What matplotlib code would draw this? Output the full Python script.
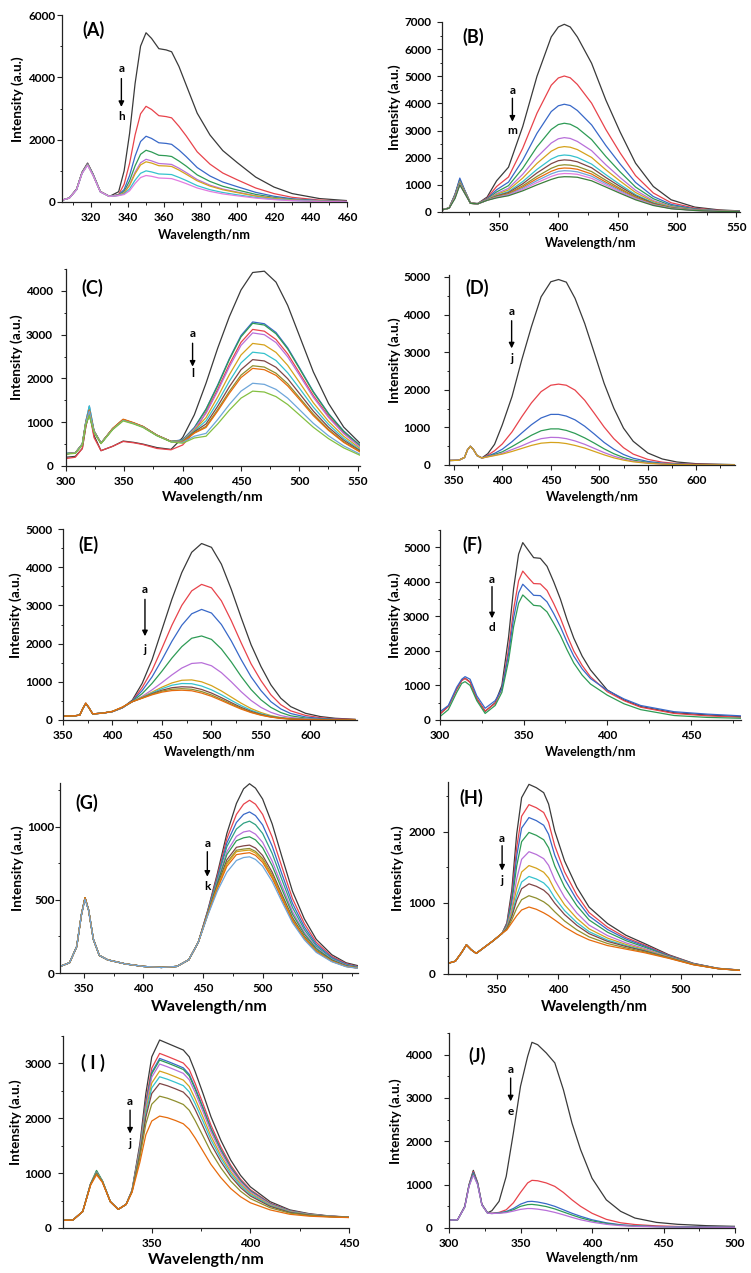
import matplotlib
matplotlib.use('Agg')
import matplotlib.pyplot as plt
from matplotlib.ticker import MultipleLocator

plt.rcParams['font.family'] = ['Lato', 'DejaVu Sans']
plt.rcParams['font.weight'] = 'bold'

# ---------------- colours (Origin-like palette) ----------------
K, R, B, G, V, Y, C, BR, OL, O, LB, YG, P, DG, TL = ('#3a3a3a', '#E8434B', '#3868C8', '#2E9B55', '#B86FD9',
                                                     '#D5A21C', '#35C2CD', '#7F4646', '#8E8E2E', '#E66B0C',
                                                     '#6EA6DA', '#84C041', '#E27BE0', '#3B7D3B', '#2EA082')

# ---------------- Panel A ----------------
A_x = [304, 308, 312, 315, 318, 321, 325, 330, 335, 338, 341, 344, 347, 350, 353, 357, 361, 364, 368, 372,
       378, 385, 392, 400, 410, 420, 430, 445, 460]
A_y = [
    [60, 130, 420, 960, 1250, 900, 340, 180, 330, 1000, 2200, 3800, 5000, 5430, 5250, 4920, 4880, 4820, 4350, 3750, 2850, 2150, 1650, 1260, 800, 480, 270, 110, 45],
    [60, 130, 410, 950, 1230, 880, 330, 180, 240, 570, 1240, 2150, 2830, 3070, 2970, 2770, 2740, 2700, 2430, 2120, 1610, 1215, 930, 710, 450, 270, 150, 62, 25],
    [60, 130, 410, 950, 1220, 880, 330, 180, 230, 400, 850, 1470, 1940, 2110, 2040, 1900, 1880, 1850, 1670, 1455, 1105, 835, 640, 490, 310, 185, 105, 43, 17],
    [60, 125, 400, 940, 1210, 870, 330, 180, 220, 340, 680, 1160, 1530, 1660, 1605, 1500, 1485, 1460, 1315, 1150, 870, 660, 505, 385, 245, 147, 83, 34, 14],
    [60, 125, 400, 930, 1200, 870, 330, 180, 215, 300, 560, 955, 1260, 1370, 1320, 1235, 1220, 1205, 1085, 945, 720, 540, 415, 318, 200, 121, 68, 28, 11],
    [60, 125, 400, 930, 1200, 860, 330, 180, 215, 290, 530, 905, 1190, 1290, 1250, 1165, 1155, 1140, 1025, 890, 680, 510, 393, 300, 190, 114, 64, 26, 11],
    [60, 125, 395, 920, 1190, 860, 325, 180, 210, 260, 420, 700, 920, 1000, 965, 900, 890, 880, 790, 690, 525, 395, 305, 230, 147, 88, 50, 20, 8],
    [60, 125, 395, 920, 1180, 850, 325, 180, 205, 240, 360, 595, 785, 850, 825, 770, 760, 750, 675, 590, 450, 340, 260, 198, 126, 75, 42, 17, 7],
]
A_colors = [K, R, B, G, V, Y, C, P]

# ---------------- Panel B ----------------
B_x = [302, 308, 313, 317, 321, 326, 332, 340, 348, 358, 370, 382, 394, 400, 405, 410, 416, 428, 440, 452,
       465, 480, 495, 515, 535, 553]
B_y = [
    [80, 150, 650, 1200, 800, 330, 310, 550, 1150, 1650, 3150, 5000, 6450, 6817, 6915, 6817, 6450, 5480, 4125, 2950, 1800, 940, 450, 180, 80, 40],
    [80, 150, 640, 1180, 790, 330, 310, 510, 940, 1290, 2350, 3640, 4670, 4939, 5010, 4945, 4700, 4010, 3040, 2180, 1340, 700, 340, 140, 60, 30],
    [80, 150, 660, 1250, 820, 330, 310, 490, 820, 1100, 1910, 2900, 3700, 3913, 3970, 3922, 3740, 3210, 2450, 1770, 1090, 570, 280, 115, 50, 25],
    [80, 150, 620, 1150, 780, 325, 305, 470, 740, 970, 1610, 2400, 3040, 3222, 3270, 3234, 3100, 2670, 2045, 1480, 920, 490, 235, 100, 45, 20],
    [80, 145, 600, 1120, 770, 325, 305, 460, 680, 870, 1390, 2020, 2540, 2698, 2740, 2711, 2600, 2260, 1740, 1270, 800, 420, 205, 87, 40, 18],
    [80, 145, 590, 1100, 760, 325, 305, 455, 645, 810, 1250, 1790, 2240, 2374, 2410, 2387, 2300, 2010, 1555, 1140, 720, 380, 185, 80, 36, 16],
    [80, 145, 580, 1080, 750, 320, 300, 447, 610, 750, 1120, 1570, 1950, 2069, 2100, 2081, 2010, 1765, 1375, 1010, 640, 340, 167, 73, 33, 14],
    [80, 145, 570, 1060, 740, 320, 300, 443, 590, 716, 1040, 1440, 1780, 1891, 1920, 1905, 1850, 1630, 1270, 940, 600, 317, 156, 69, 31, 13],
    [80, 140, 560, 1050, 730, 320, 300, 439, 570, 680, 965, 1310, 1610, 1713, 1740, 1727, 1680, 1490, 1170, 866, 555, 295, 146, 65, 29, 12],
    [80, 140, 550, 1040, 720, 320, 300, 437, 556, 660, 915, 1230, 1500, 1595, 1620, 1611, 1575, 1400, 1100, 820, 527, 280, 139, 62, 28, 12],
    [80, 140, 540, 1030, 710, 320, 300, 435, 545, 641, 872, 1156, 1405, 1496, 1520, 1512, 1480, 1320, 1045, 778, 503, 267, 133, 60, 27, 11],
    [80, 140, 520, 1010, 700, 320, 300, 432, 533, 622, 830, 1084, 1310, 1395, 1418, 1412, 1389, 1241, 987, 737, 478, 255, 127, 58, 26, 10],
    [80, 140, 500, 1000, 700, 320, 300, 430, 520, 600, 780, 1000, 1200, 1279, 1300, 1296, 1280, 1150, 920, 690, 450, 240, 120, 55, 25, 10],
]
B_colors = [K, R, B, G, V, Y, C, BR, OL, O, LB, P, DG]

# ---------------- Panel C ----------------
C_x = [300, 308, 314, 317, 320, 324, 330, 340, 349, 358, 366, 378, 390, 400, 410, 420, 430, 440, 450, 460,
       470, 480, 490, 500, 512, 525, 538, 552]
C_y = [
    [200, 220, 400, 900, 1250, 700, 350, 450, 570, 540, 500, 420, 380, 650, 1170, 1890, 2690, 3410, 4020, 4420, 4450, 4200, 3670, 2980, 2150, 1430, 890, 520],
    [170, 200, 400, 900, 1230, 650, 350, 450, 560, 530, 490, 400, 370, 480, 780, 1230, 1750, 2320, 2825, 3120, 3080, 2890, 2560, 2130, 1610, 1140, 760, 445],
    [290, 300, 500, 1020, 1370, 800, 520, 850, 1060, 980, 900, 700, 560, 600, 880, 1300, 1850, 2450, 2980, 3290, 3250, 3050, 2700, 2250, 1700, 1200, 800, 470],
    [280, 300, 480, 950, 1150, 780, 520, 840, 1050, 975, 895, 700, 560, 590, 870, 1290, 1830, 2430, 2950, 3260, 3220, 3020, 2675, 2230, 1685, 1190, 790, 465],
    [280, 300, 500, 1000, 1300, 800, 520, 850, 1060, 980, 900, 700, 560, 580, 850, 1200, 1710, 2265, 2755, 3040, 3000, 2820, 2495, 2080, 1570, 1110, 740, 435],
    [280, 300, 500, 990, 1280, 790, 520, 850, 1060, 980, 900, 700, 560, 570, 820, 1105, 1575, 2085, 2535, 2800, 2765, 2595, 2300, 1915, 1445, 1020, 680, 400],
    [290, 300, 510, 1020, 1370, 810, 520, 850, 1060, 980, 900, 700, 560, 570, 800, 1030, 1460, 1935, 2355, 2600, 2570, 2410, 2130, 1780, 1345, 950, 630, 370],
    [280, 300, 500, 990, 1270, 790, 520, 850, 1050, 975, 895, 700, 560, 560, 780, 960, 1365, 1810, 2200, 2430, 2400, 2255, 1995, 1660, 1255, 885, 590, 350],
    [280, 300, 500, 990, 1260, 790, 520, 850, 1050, 975, 895, 700, 560, 560, 760, 905, 1290, 1705, 2075, 2290, 2260, 2120, 1880, 1565, 1185, 835, 555, 330],
    [280, 300, 500, 1000, 1280, 800, 520, 860, 1070, 990, 905, 705, 560, 550, 750, 880, 1255, 1660, 2020, 2230, 2200, 2070, 1830, 1525, 1150, 815, 540, 320],
    [280, 300, 500, 990, 1250, 790, 520, 840, 1040, 970, 890, 695, 555, 540, 680, 745, 1060, 1405, 1710, 1890, 1865, 1750, 1550, 1290, 975, 690, 460, 270],
    [270, 290, 480, 950, 1150, 770, 510, 830, 1030, 960, 880, 690, 550, 520, 640, 680, 960, 1275, 1550, 1710, 1690, 1585, 1405, 1170, 885, 625, 415, 245],
]
C_colors = [K, R, B, G, V, Y, C, BR, OL, O, LB, YG]

# ---------------- Panel D ----------------
D_x = [345, 355, 361, 364, 367, 370, 374, 379, 385, 392, 400, 410, 420, 430, 440, 450, 458, 466, 475, 485,
       495, 505, 515, 525, 535, 550, 565, 580, 600, 640]
D_y = [
    [120, 125, 200, 400, 500, 420, 250, 190, 300, 550, 1070, 1820, 2790, 3675, 4470, 4870, 4930, 4860, 4430, 3760, 2970, 2170, 1510, 980, 630, 320, 160, 80, 35, 10],
    [120, 125, 200, 400, 495, 420, 250, 185, 260, 380, 560, 880, 1280, 1650, 1950, 2120, 2150, 2120, 1990, 1720, 1370, 1010, 700, 460, 290, 150, 75, 40, 20, 5],
    [120, 125, 200, 400, 495, 420, 250, 185, 240, 310, 420, 620, 850, 1070, 1250, 1345, 1345, 1300, 1200, 1030, 820, 600, 420, 280, 180, 95, 50, 25, 12, 5],
    [120, 125, 200, 400, 495, 420, 250, 185, 230, 280, 350, 490, 640, 790, 910, 960, 960, 920, 840, 720, 580, 430, 300, 200, 130, 70, 35, 18, 9, 4],
    [120, 125, 200, 400, 495, 420, 250, 185, 220, 260, 310, 410, 510, 620, 700, 735, 730, 700, 640, 550, 440, 330, 235, 160, 100, 55, 28, 14, 7, 3],
    [120, 125, 200, 400, 495, 420, 250, 185, 215, 250, 290, 360, 440, 520, 580, 600, 595, 570, 520, 450, 360, 270, 190, 130, 85, 45, 23, 12, 6, 3],
]
D_colors = [K, R, B, G, V, Y]

# ---------------- Panel E ----------------
E_x = [350, 362, 367, 370, 373, 376, 380, 390, 400, 410, 420, 430, 440, 450, 460, 470, 480, 490, 500, 510,
       520, 530, 540, 550, 560, 570, 580, 595, 610, 625, 645]
E_y = [
    [100, 110, 130, 300, 440, 330, 160, 180, 220, 320, 520, 960, 1580, 2370, 3160, 3860, 4390, 4620, 4520, 4080, 3420, 2680, 1970, 1400, 920, 570, 350, 175, 90, 45, 18],
    [100, 110, 130, 300, 440, 330, 160, 180, 220, 320, 500, 850, 1300, 1880, 2480, 3000, 3380, 3550, 3460, 3120, 2600, 2020, 1470, 1030, 660, 400, 240, 120, 60, 30, 12],
    [100, 110, 130, 300, 430, 330, 160, 180, 220, 320, 500, 770, 1130, 1580, 2060, 2480, 2780, 2895, 2800, 2500, 2070, 1580, 1130, 770, 480, 290, 170, 80, 40, 20, 8],
    [100, 110, 130, 300, 430, 330, 160, 180, 220, 320, 490, 690, 960, 1280, 1620, 1920, 2140, 2200, 2110, 1860, 1520, 1140, 800, 530, 330, 195, 110, 50, 25, 12, 5],
    [100, 110, 130, 300, 430, 330, 160, 180, 220, 320, 480, 620, 790, 980, 1180, 1360, 1480, 1500, 1420, 1240, 1000, 740, 510, 330, 200, 115, 65, 30, 15, 7, 3],
    [100, 110, 130, 300, 430, 330, 160, 180, 225, 330, 480, 600, 730, 860, 970, 1040, 1050, 1000, 900, 760, 600, 440, 300, 195, 115, 65, 36, 16, 8, 4, 2],
    [100, 110, 130, 300, 430, 330, 160, 180, 225, 330, 480, 590, 710, 820, 910, 955, 950, 890, 790, 660, 515, 375, 255, 165, 100, 57, 32, 14, 7, 3, 2],
    [100, 110, 130, 300, 430, 330, 160, 180, 225, 330, 480, 580, 690, 780, 845, 870, 860, 800, 705, 585, 455, 330, 225, 145, 88, 50, 28, 12, 6, 3, 1],
    [100, 110, 130, 300, 440, 330, 160, 180, 225, 335, 480, 575, 675, 755, 805, 820, 805, 745, 655, 540, 420, 305, 205, 133, 80, 46, 25, 11, 5, 3, 1],
    [100, 110, 130, 300, 440, 330, 160, 180, 225, 340, 480, 570, 660, 730, 770, 780, 765, 705, 620, 510, 395, 285, 195, 125, 75, 43, 24, 10, 5, 2, 1],
]
E_colors = [K, R, B, G, V, Y, C, BR, OL, O]

# ---------------- Panel F ----------------
F_x = [300, 305, 310, 313, 315, 318, 322, 327, 333, 337, 341, 344, 347, 349.5, 353, 356, 360, 364, 368, 372,
       376, 380, 385, 390, 400, 410, 420, 440, 460, 480]
F_y = [
    [180, 400, 900, 1150, 1210, 1100, 620, 250, 500, 1000, 2400, 3800, 4800, 5135, 4900, 4700, 4680, 4450, 4000, 3500, 2900, 2370, 1850, 1450, 870, 580, 390, 210, 145, 97],
    [170, 390, 890, 1140, 1200, 1090, 620, 260, 480, 900, 2050, 3200, 4030, 4310, 4110, 3950, 3940, 3750, 3370, 2950, 2450, 2000, 1580, 1250, 820, 560, 370, 190, 120, 80],
    [240, 420, 950, 1180, 1255, 1180, 700, 340, 560, 900, 1900, 2950, 3680, 3930, 3760, 3610, 3600, 3420, 3080, 2700, 2250, 1850, 1480, 1200, 860, 610, 420, 240, 170, 120],
    [100, 300, 800, 1060, 1110, 1000, 560, 190, 420, 800, 1720, 2700, 3380, 3620, 3460, 3320, 3300, 3130, 2800, 2450, 2030, 1650, 1300, 1040, 720, 470, 300, 130, 75, 50],
]
F_colors = [K, R, B, G]

# ---------------- Panel G ----------------
G_x = [330, 338, 344, 348, 351, 354, 358, 363, 370, 385, 400, 415, 428, 438, 446, 454, 462, 470, 478, 484,
       489, 494, 500, 508, 516, 525, 535, 545, 558, 570, 580]
G_y = [
    [45, 70, 180, 400, 515, 430, 230, 120, 90, 62, 45, 38, 45, 90, 210, 430, 680, 955, 1160, 1260, 1295, 1265, 1190, 1020, 800, 560, 370, 230, 125, 70, 50],
    [45, 70, 180, 400, 515, 430, 230, 120, 90, 62, 45, 38, 45, 90, 210, 425, 665, 920, 1085, 1155, 1182, 1155, 1085, 930, 730, 510, 338, 210, 114, 64, 44],
    [45, 70, 180, 400, 515, 430, 230, 120, 90, 62, 45, 38, 45, 90, 210, 420, 650, 890, 1030, 1085, 1102, 1077, 1013, 868, 681, 477, 315, 196, 106, 60, 42],
    [45, 70, 180, 400, 515, 430, 230, 120, 90, 62, 45, 38, 45, 90, 210, 415, 640, 865, 985, 1025, 1039, 1015, 955, 818, 642, 449, 297, 184, 100, 56, 40],
    [45, 70, 180, 400, 515, 430, 230, 120, 90, 62, 45, 38, 45, 90, 210, 410, 625, 830, 935, 965, 973, 950, 894, 766, 601, 421, 278, 173, 94, 53, 38],
    [45, 70, 180, 400, 515, 430, 230, 120, 90, 62, 45, 38, 45, 90, 210, 410, 615, 810, 905, 925, 932, 911, 857, 734, 576, 403, 266, 166, 90, 50, 37],
    [45, 70, 180, 400, 515, 430, 230, 120, 90, 62, 45, 38, 45, 90, 210, 405, 600, 775, 860, 870, 875, 855, 804, 690, 541, 379, 250, 155, 85, 47, 35],
    [45, 70, 180, 400, 515, 430, 230, 120, 90, 62, 45, 38, 45, 90, 210, 405, 590, 755, 840, 848, 852, 832, 783, 671, 526, 368, 243, 151, 82, 46, 34],
    [45, 70, 180, 400, 515, 430, 230, 120, 90, 62, 45, 38, 45, 90, 210, 400, 585, 745, 830, 837, 841, 821, 772, 662, 519, 363, 240, 149, 81, 45, 34],
    [45, 70, 180, 400, 515, 430, 230, 120, 90, 62, 45, 38, 45, 90, 210, 400, 575, 730, 810, 818, 823, 805, 757, 649, 509, 356, 235, 146, 80, 45, 33],
    [45, 70, 180, 400, 505, 430, 230, 120, 90, 62, 45, 38, 45, 90, 210, 395, 560, 690, 770, 790, 795, 777, 731, 626, 491, 344, 227, 141, 77, 43, 32],
]
G_colors = [K, R, B, TL, V, G, BR, OL, Y, O, LB]

# ---------------- Panel H ----------------
H_x = [310, 316, 321, 325, 329, 333, 340, 347, 354, 358, 362, 366, 370, 376, 382, 388, 392, 397, 405, 415,
       425, 440, 455, 470, 490, 510, 530, 548]
H_y = [
    [150, 180, 300, 410, 340, 290, 380, 470, 570, 720, 1180, 1970, 2480, 2667, 2620, 2550, 2390, 2010, 1590, 1220, 940, 710, 545, 430, 270, 150, 80, 56],
    [150, 180, 300, 410, 340, 290, 380, 470, 570, 704, 1104, 1780, 2219, 2382, 2338, 2271, 2131, 1804, 1437, 1111, 864, 659, 513, 409, 262, 147, 79, 55],
    [150, 180, 300, 410, 340, 290, 380, 470, 570, 693, 1055, 1658, 2052, 2200, 2157, 2092, 1965, 1671, 1338, 1041, 815, 626, 492, 395, 256, 145, 79, 54],
    [150, 180, 300, 410, 340, 290, 380, 470, 570, 681, 1000, 1519, 1861, 1991, 1950, 1888, 1775, 1520, 1225, 961, 760, 588, 469, 379, 250, 142, 78, 54],
    [150, 180, 300, 410, 340, 290, 380, 470, 570, 665, 927, 1339, 1613, 1720, 1681, 1622, 1528, 1324, 1079, 858, 687, 540, 438, 359, 243, 139, 77, 53],
    [150, 180, 300, 410, 340, 290, 380, 470, 570, 654, 875, 1209, 1434, 1525, 1488, 1431, 1351, 1183, 974, 783, 635, 505, 416, 344, 237, 137, 77, 52],
    [150, 180, 300, 410, 340, 290, 380, 470, 570, 645, 835, 1106, 1293, 1372, 1336, 1281, 1211, 1071, 892, 724, 595, 477, 399, 332, 232, 135, 76, 51],
    [150, 180, 300, 410, 340, 290, 380, 470, 570, 639, 807, 1037, 1199, 1268, 1233, 1179, 1117, 996, 836, 685, 567, 459, 387, 325, 229, 134, 76, 51],
    [150, 180, 300, 410, 340, 290, 380, 470, 570, 629, 762, 926, 1045, 1101, 1067, 1015, 964, 875, 746, 621, 522, 429, 368, 312, 225, 132, 75, 50],
    [150, 180, 300, 410, 340, 290, 380, 470, 570, 620, 720, 820, 900, 942, 910, 860, 820, 760, 660, 560, 480, 400, 350, 300, 220, 130, 75, 50],
]
H_colors = [K, R, B, G, V, Y, C, BR, OL, O]

# ---------------- Panel I ----------------
I_x = [305, 310, 315, 319, 322, 325, 329, 333, 337, 340, 344, 347, 350, 354, 358, 362, 366, 369, 372, 376,
       380, 385, 390, 395, 400, 410, 420, 430, 440, 450]
I_y = [
    [140, 145, 300, 800, 1020, 850, 480, 340, 430, 690, 1540, 2450, 3120, 3427, 3366, 3305, 3244, 3120, 2850, 2450, 2030, 1600, 1240, 960, 750, 480, 330, 260, 220, 200],
    [140, 145, 300, 800, 1020, 850, 480, 340, 430, 683, 1480, 2318, 2914, 3183, 3127, 3068, 3007, 2888, 2637, 2265, 1877, 1480, 1148, 891, 699, 454, 316, 252, 216, 198],
    [140, 145, 300, 800, 1030, 850, 480, 340, 430, 680, 1458, 2269, 2837, 3091, 3038, 2980, 2919, 2801, 2557, 2196, 1819, 1435, 1114, 866, 680, 444, 311, 249, 215, 198],
    [140, 145, 300, 810, 1050, 860, 480, 340, 430, 679, 1450, 2252, 2811, 3061, 3008, 2950, 2889, 2772, 2531, 2173, 1800, 1420, 1103, 857, 673, 440, 309, 248, 215, 197],
    [140, 145, 300, 800, 1020, 850, 480, 340, 430, 677, 1433, 2213, 2750, 2989, 2938, 2880, 2819, 2703, 2468, 2118, 1755, 1385, 1076, 837, 658, 433, 305, 246, 214, 197],
    [140, 145, 300, 800, 1010, 850, 480, 340, 430, 674, 1401, 2144, 2643, 2861, 2813, 2756, 2696, 2581, 2356, 2022, 1675, 1323, 1028, 801, 632, 419, 297, 242, 212, 196],
    [140, 145, 300, 800, 1010, 850, 480, 340, 430, 671, 1376, 2088, 2555, 2757, 2711, 2655, 2595, 2482, 2266, 1943, 1610, 1272, 989, 772, 610, 408, 291, 238, 210, 195],
    [140, 145, 300, 800, 1000, 840, 480, 340, 430, 667, 1346, 2022, 2452, 2635, 2592, 2537, 2477, 2366, 2159, 1850, 1533, 1212, 943, 737, 584, 394, 284, 234, 209, 194],
    [140, 145, 300, 790, 990, 840, 480, 340, 430, 660, 1289, 1897, 2257, 2403, 2365, 2312, 2252, 2146, 1957, 1675, 1388, 1098, 856, 672, 536, 369, 271, 227, 205, 193],
    [140, 145, 300, 780, 970, 830, 480, 340, 430, 650, 1200, 1700, 1950, 2040, 2010, 1960, 1900, 1800, 1640, 1400, 1160, 920, 720, 570, 460, 330, 250, 215, 200, 190],
]
I_colors = [K, R, B, G, V, Y, C, BR, OL, O]

# ---------------- Panel J ----------------
J_x = [300, 306, 311, 314, 317, 320, 323, 327, 330, 335, 340, 345, 350, 355, 358, 362, 368, 374, 380, 386,
       392, 400, 410, 420, 430, 445, 460, 480, 500]
J_y = [
    [180, 190, 500, 1000, 1330, 1050, 550, 350, 400, 615, 1190, 2190, 3270, 3960, 4285, 4230, 4040, 3810, 3190, 2420, 1810, 1150, 650, 385, 230, 130, 85, 54, 38],
    [180, 190, 490, 990, 1300, 1040, 540, 345, 340, 360, 420, 580, 820, 1040, 1100, 1090, 1040, 960, 820, 650, 500, 340, 200, 120, 80, 50, 35, 25, 20],
    [180, 190, 490, 980, 1280, 1030, 540, 345, 335, 350, 380, 450, 550, 610, 615, 600, 560, 500, 420, 340, 270, 190, 120, 75, 50, 35, 28, 22, 18],
    [180, 190, 480, 970, 1250, 1010, 530, 340, 335, 345, 370, 420, 500, 540, 545, 530, 495, 440, 370, 300, 235, 165, 105, 65, 45, 32, 25, 20, 17],
    [180, 190, 480, 960, 1220, 1000, 530, 340, 335, 340, 355, 390, 430, 450, 448, 435, 405, 360, 305, 245, 190, 135, 85, 55, 38, 28, 22, 18, 15],
]
J_colors = [K, R, B, G, V]

# ---------------- layout / styling ----------------
W, H = 751, 1273
fig = plt.figure(figsize=(W / 100, H / 100), dpi=100)

panels = [
    # x, ys, colors, (L,R,T,B px), xlim, ylim, xmaj, xmin, ymaj, ymin, label, label pos,
    # arrow(x, y_a, y_start, y_end, y_last, last letter), ylabel x, xlabel y, xlabel size, ytick pad
    (A_x, A_y, A_colors, (62, 347, 15, 202), (304, 460), (0, 6000), 20, 10, 2000, 1000, '(A)', (0.109, 0.92),
     (336.5, 4280, 3960, 3050, 2730, 'h'), -0.154, -0.176, 9.2, 1.4),
    (B_x, B_y, B_colors, (442, 740, 22, 212), (302, 553), (0, 7000), 50, 25, 1000, 500, '(B)', (0.104, 0.921),
     (361.3, 4490, 4190, 3330, 3000, 'm'), -0.158, -0.163, 9.0, 4.3),
    (C_x, C_y, C_colors, (66, 360, 269, 466), (300, 552), (0, 4500), 50, 25, 1000, 500, '(C)', (0.088, 0.904),
     (408.5, 3017, 2804, 2270, 2118, 'l'), -0.167, -0.157, 10.0, 5.8),
    (D_x, D_y, D_colors, (449, 735, 275, 465), (345, 640), (0, 5050), 50, 25, 1000, 500, '(D)', (0.098, 0.93),
     (409.6, 4090, 3834, 3100, 2836, 'j'), -0.189, -0.168, 9.2, 10.0),
    (E_x, E_y, E_colors, (63, 357, 529, 720), (350, 647), (0, 5000), 50, 25, 1000, 500, '(E)', (0.085, 0.916),
     (432.8, 3421, 3158, 2193, 1842, 'j'), -0.160, -0.168, 9.0, 4.3),
    (F_x, F_y, F_colors, (440, 741, 530, 720), (300, 480), (0, 5500), 50, 25, 1000, 500, '(F)', (0.106, 0.92),
     (331.1, 4073, 3861, 2944, 2683, 'd'), -0.150, -0.168, 9.0, 3.6),
    (G_x, G_y, G_colors, (60, 358, 783, 973), (330, 580), (0, 1300), 50, 25, 500, 250, '(G)', (0.09, 0.895),
     (453.6, 886, 830, 659, 591, 'k'), -0.141, -0.178, 11.5, 0.5),
    (H_x, H_y, H_colors, (448, 740, 782, 974), (310, 548), (0, 2700), 50, 25, 1000, 500, '(H)', (0.079, 0.917),
     (354.1, 1911, 1804, 1455, 1315, 'j'), -0.171, -0.172, 10.5, 5.8),
    (I_x, I_y, I_colors, (63, 349, 1036, 1228), (305, 450), (0, 3500), 50, 25, 1000, 500, '( I )', (0.105, 0.86),
     (339.0, 2301, 2148, 1722, 1540, 'j'), -0.164, -0.167, 11.5, 5.0),
    (J_x, J_y, J_colors, (449, 735, 1033, 1228), (300, 500), (0, 4500), 50, 25, 1000, 500, '(J)', (0.098, 0.882),
     (343.1, 3669, 3461, 2923, 2692, 'e'), -0.185, -0.154, 9.2, 8.6),
]

for (xs, ys, cols, (L, Rr, T, Bb), xl, yl, xmaj, xmin, ymaj, ymin, lab, lpos, arr, ylx, xly, xls, ypad) in panels:
    ax = fig.add_axes([L / W, 1 - Bb / H, (Rr - L) / W, (Bb - T) / H])
    for yv, cc in zip(ys, cols):
        ax.plot(xs, yv, color=cc, lw=0.9, solid_joinstyle='round')
    ax.set_xlim(*xl)
    ax.set_ylim(*yl)
    for s in ('top', 'right'):
        ax.spines[s].set_visible(False)
    for s in ('left', 'bottom'):
        ax.spines[s].set_linewidth(0.9)
        ax.spines[s].set_color('#222222')
    ax.xaxis.set_major_locator(MultipleLocator(xmaj))
    ax.xaxis.set_minor_locator(MultipleLocator(xmin))
    ax.yaxis.set_major_locator(MultipleLocator(ymaj))
    ax.yaxis.set_minor_locator(MultipleLocator(ymin))
    ax.tick_params(which='major', direction='out', length=3.5, width=0.8, labelsize=8.5, color='#222222')
    ax.tick_params(which='minor', direction='out', length=1.8, width=0.7, color='#222222')
    ax.tick_params(axis='x', which='major', pad=4)
    ax.tick_params(axis='y', which='major', pad=ypad)
    for t in ax.get_xticklabels() + ax.get_yticklabels():
        t.set_fontweight('bold')
    ax.set_ylabel('Intensity (a.u.)', fontsize=9.8, fontweight='bold')
    ax.yaxis.set_label_coords(ylx, 0.55)
    ax.yaxis.label.set_va('center')
    ax.set_xlabel('Wavelength/nm', fontsize=xls, fontweight='bold')
    ax.xaxis.set_label_coords(0.5, xly)
    ax.xaxis.label.set_va('center')
    ax.text(lpos[0], lpos[1], lab, transform=ax.transAxes, ha='center', va='center',
            fontsize=13, fontweight='bold')
    axx, ya, y0, y1, yb, last = arr
    ax.annotate('', xy=(axx, y1), xytext=(axx, y0),
                arrowprops=dict(arrowstyle='-|>', color='black', lw=1.0, mutation_scale=8,
                                shrinkA=0, shrinkB=0))
    ax.text(axx, ya, 'a', ha='center', va='center', fontsize=8.5, fontweight='bold')
    ax.text(axx, yb, last, ha='center', va='center', fontsize=8.5, fontweight='bold')

fig.savefig('out.png', dpi=100)
